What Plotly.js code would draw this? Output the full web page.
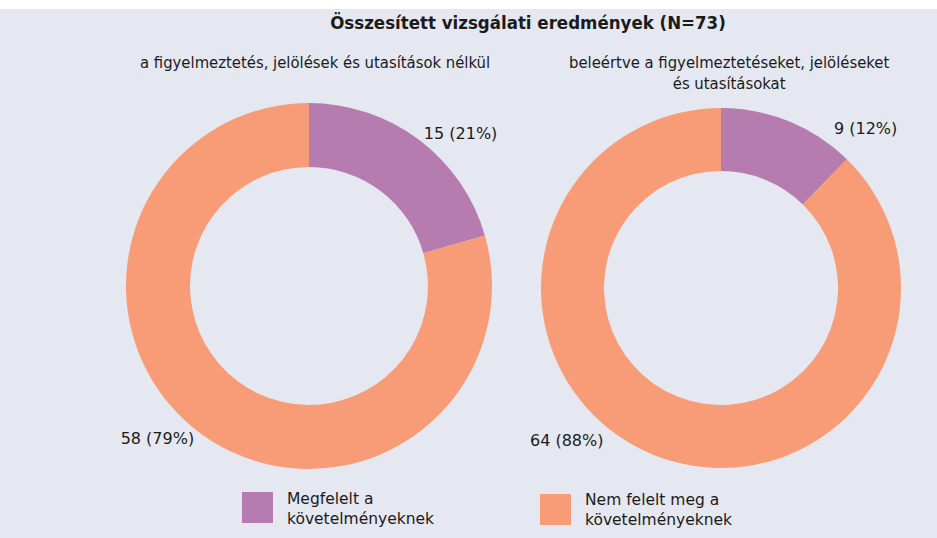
<!DOCTYPE html>
<html>
<head>
<meta charset="utf-8">
<script src="https://cdn.plot.ly/plotly-3.0.1.min.js"></script>
<style>
  html, body { margin: 0; padding: 0; background: #ffffff; }
  #chart { width: 937px; height: 538px; }
</style>
</head>
<body>
<div id="chart"></div>
<script>
// ---- data ----
const categories = ["Megfelelt a követelményeknek", "Nem felelt meg a követelményeknek"];
const legendLabels = ["Megfelelt a<br>követelményeknek", "Nem felelt meg a<br>követelményeknek"];
const valuesWithout = [15, 58];
const valuesWith = [9, 64];
const sliceColors = ["#b77caf", "#f89c77"];
const chartTitle = "Összesített vizsgálati eredmények (N=73)";
const subtitleLeft = "a figyelmeztetés, jelölések és utasítások nélkül";
const subtitleRight = "beleértve a figyelmeztetéseket, jelöléseket<br>és utasításokat";

// ---- layout helpers ----
const W = 937, H = 538;
const px = x => x / W;
const py = y => 1 - y / H;

const narrow = "'Liberation Sans Narrow', 'DejaVu Sans Condensed', 'Liberation Sans', sans-serif";
const sans = "'DejaVu Sans', 'Noto Sans', sans-serif";
const textColor = "#1b1b1b";
const bg = "#e5e8f0";
const labelFont = { family: sans, size: 16, color: textColor };

function donut(values, cx, cy, r, showText) {
  return {
    type: "pie",
    labels: categories,
    values: values,
    sort: false,
    direction: "clockwise",
    rotation: 0,
    hole: 0.65,
    marker: { colors: sliceColors, line: { width: 0 } },
    textposition: "outside",
    textinfo: showText ? undefined : "none",
    texttemplate: showText ? "%{value} (%{percent:.0%})" : "",
    outsidetextfont: labelFont,
    hoverinfo: "skip",
    showlegend: false,
    domain: { x: [px(cx - r), px(cx + r)], y: [py(cy + r), py(cy - r)] }
  };
}

const data = [
  donut(valuesWithout, 309, 286, 183, true),
  donut(valuesWith, 721, 288, 180, false)
];

function pctLabel(values, i) {
  const total = values.reduce((a, b) => a + b, 0);
  return values[i] + " (" + Math.round(100 * values[i] / total) + "%)";
}

// custom legend (large swatches)
const legendPos = [
  { sx: 242, sy: 492, tx: 285, ty: 509 },
  { sx: 540, sy: 494, tx: 583, ty: 510 }
];
const shapes = [
  { type: "rect", xref: "paper", yref: "paper", x0: 0, x1: 1, y0: py(9), y1: 1,
    fillcolor: "#ffffff", line: { width: 0 }, layer: "below" }
];
const annotations = [
  { text: subtitleLeft, x: px(315), y: py(62), xref: "paper", yref: "paper",
    xanchor: "center", yanchor: "middle", showarrow: false,
    font: { family: narrow, size: 16.5, color: textColor } },
  { text: subtitleRight, x: px(729), y: py(62), xref: "paper", yref: "paper",
    xanchor: "center", yanchor: "top", showarrow: false, yshift: 11,
    font: { family: narrow, size: 16.5, color: textColor } },
  // right donut value labels
  { text: pctLabel(valuesWith, 0), x: px(832), y: py(128), xref: "paper", yref: "paper",
    xanchor: "left", yanchor: "middle", showarrow: false, font: labelFont },
  { text: pctLabel(valuesWith, 1), x: px(606), y: py(440), xref: "paper", yref: "paper",
    xanchor: "right", yanchor: "middle", showarrow: false, font: labelFont }
];
legendLabels.forEach((lab, i) => {
  const p = legendPos[i];
  shapes.push({ type: "rect", xref: "paper", yref: "paper",
    x0: px(p.sx), x1: px(p.sx + 31), y0: py(p.sy + 31), y1: py(p.sy),
    fillcolor: sliceColors[i], line: { width: 0 } });
  annotations.push({ text: lab, x: px(p.tx), y: py(p.ty), xref: "paper", yref: "paper",
    xanchor: "left", yanchor: "middle", align: "left", showarrow: false,
    font: { family: sans, size: 15.5, color: textColor } });
});

const layout = {
  width: W, height: H,
  margin: { l: 0, r: 0, t: 0, b: 0 },
  paper_bgcolor: bg,
  plot_bgcolor: bg,
  title: {
    text: "<b>" + chartTitle + "</b>",
    x: px(528), xanchor: "center", xref: "paper",
    y: py(23), yanchor: "middle", yref: "container",
    font: { family: narrow, size: 18.5, color: textColor }
  },
  shapes: shapes,
  annotations: annotations,
  showlegend: false
};

Plotly.newPlot("chart", data, layout, { displayModeBar: false, staticPlot: true });
</script>
</body>
</html>
